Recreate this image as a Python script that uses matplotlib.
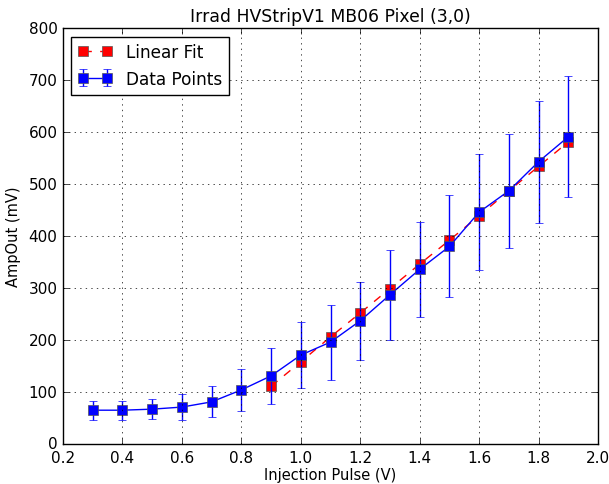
import matplotlib

matplotlib.use("Agg")
import matplotlib.pyplot as plt

# Measured points (blue)
inj_pulse = [0.3, 0.4, 0.5, 0.6, 0.7, 0.8, 0.9, 1.0, 1.1, 1.2, 1.3, 1.4, 1.5, 1.6, 1.7, 1.8, 1.9]
amp_out = [65, 65, 67, 71, 81, 104, 131, 171, 196, 237, 287, 336, 380, 446, 487, 543, 591]
amp_err = [18, 18, 19, 25, 30, 40, 54, 63, 72, 75, 87, 91, 98, 112, 110, 117, 116]

# Linear fit (red)
fit_x = [0.9, 1.0, 1.1, 1.2, 1.3, 1.4, 1.5, 1.6, 1.7, 1.8, 1.9]
fit_y = [111, 158, 206, 252, 299, 346, 392, 439, 487, 534, 581]

plt.style.use("classic")
fig = plt.figure(figsize=(6.09, 4.85), dpi=100, facecolor="white")
ax = fig.add_axes([0.1034, 0.0825, 0.8786, 0.8575])

ax.plot(fit_x, fit_y, "r--s", markersize=7, markeredgecolor="#555555", label="Linear Fit")
ax.errorbar(
    inj_pulse,
    amp_out,
    yerr=amp_err,
    fmt="b-s",
    markersize=7,
    markeredgecolor="#555555",
    ecolor="blue",
    elinewidth=1,
    capsize=3,
    label="Data Points",
)

ax.set_xlim(0.2, 2.0)
ax.set_ylim(0, 800)
ax.set_title("Irrad HVStripV1 MB06 Pixel (3,0)", fontsize=12.4, pad=5)
ax.set_xlabel("Injection Pulse (V)", fontsize=10.5, labelpad=2)
ax.set_ylabel("AmpOut (mV)", fontsize=10.5)
ax.tick_params(labelsize=11)
ax.grid(True)
ax.legend(loc="upper left", numpoints=2, fontsize=12.2)

fig.savefig("out.png", dpi=100, facecolor="white")
